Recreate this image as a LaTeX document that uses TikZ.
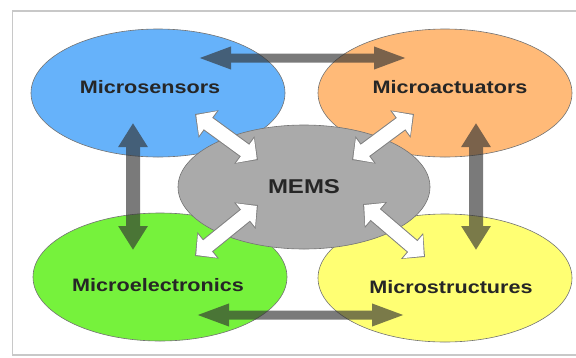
\documentclass[tikz,border=0pt]{standalone}
\usepackage{fontspec}
\usetikzlibrary{arrows.meta,shapes.geometric}
\newfontfamily\memsfont{Liberation Sans}[FakeStretch=1.2]
\definecolor{mems-blue}{RGB}{102,178,250}
\definecolor{mems-orange}{RGB}{255,186,120}
\definecolor{mems-grey}{RGB}{170,170,170}
\definecolor{mems-green}{RGB}{118,242,60}
\definecolor{mems-yellow}{RGB}{255,255,115}
\definecolor{mems-frame}{RGB}{200,200,200}

\tikzset{
  field/.style={ellipse, draw=black!55, line width=0.6pt, inner sep=0pt,
    minimum width=254pt, minimum height=128pt},
  fieldtext/.style={text=black!85, font=\memsfont\bfseries\fontsize{18}{18}\selectfont},
  hlink/.style={line width=9pt, black!80,
    {Triangle[length=34pt,width=20pt]}-{Triangle[length=34pt,width=20pt]}},
  vlink/.style={line width=14pt, black!80,
    {Triangle[length=24pt,width=28pt]}-{Triangle[length=24pt,width=28pt]}},
  wout/.style={line width=16pt, black!50,
    {Triangle[length=17pt,width=33pt]}-{Triangle[length=17pt,width=33pt]}},
  win/.style={line width=14pt, white, shorten >=1.5pt, shorten <=1.5pt,
    {Triangle[length=14.5pt,width=29.5pt]}-{Triangle[length=14.5pt,width=29.5pt]}},
}

\begin{document}
\begin{tikzpicture}[x=1pt,y=-1pt]
\useasboundingbox (0,0) rectangle (576,357);
%Rahmen:
\draw[mems-frame, line width=1.5pt] (576,11) -- (12.5,11) -- (12.5,355) -- (576,355);

%Felder:
\node[field, fill=mems-blue,
  label={[fieldtext, xshift=-8pt, yshift=6pt]center:Microsensors}] (sens) at (158,93) {};
\node[field, fill=mems-orange,
  label={[fieldtext, xshift=5pt, yshift=6pt]center:Microactuators}] (act) at (445,93) {};
\node[field, fill=mems-green,
  label={[fieldtext, xshift=-2pt, yshift=-8pt]center:Microelectronics}] (elec) at (160,277) {};
\node[field, fill=mems-yellow,
  label={[fieldtext, xshift=6pt, yshift=-9pt]center:Microstructures}] (struc) at (445,278) {};
\node[field, fill=mems-grey, minimum width=252pt, minimum height=124pt,
  fieldtext, font=\memsfont\bfseries\fontsize{20}{20}\selectfont] (mems) at (304,187) {MEMS};

%Enden der Pfeile:
\coordinate (sens-e) at (197,58);
\coordinate (act-w) at (408,58);
\coordinate (elec-e) at (195,315);
\coordinate (struc-w) at (406,315);
\coordinate (sens-s) at (133,123);
\coordinate (elec-n) at (133,250);
\coordinate (act-s) at (476,123);
\coordinate (struc-n) at (476,250);
\coordinate (sens-se) at (195,114);
\coordinate (mems-nw) at (258,160);
\coordinate (act-sw) at (414,114);
\coordinate (mems-ne) at (352,160);
\coordinate (elec-ne) at (195,256);
\coordinate (mems-sw) at (258,205);
\coordinate (struc-nw) at (425,257);
\coordinate (mems-se) at (363,204);

%dunkle Pfeile:
\begin{scope}[transparency group, opacity=0.65]
\draw[hlink] (sens-e) -- (act-w);
\draw[hlink] (elec-e) -- (struc-w);
\draw[vlink] (sens-s) -- (elec-n);
\draw[vlink] (act-s) -- (struc-n);
\end{scope}

%weisse Pfeile:
\draw[wout] (sens-se) -- (mems-nw);
\draw[win] (sens-se) -- (mems-nw);
\draw[wout] (act-sw) -- (mems-ne);
\draw[win] (act-sw) -- (mems-ne);
\draw[wout] (elec-ne) -- (mems-sw);
\draw[win] (elec-ne) -- (mems-sw);
\draw[wout] (struc-nw) -- (mems-se);
\draw[win] (struc-nw) -- (mems-se);
\end{tikzpicture}
\end{document}
